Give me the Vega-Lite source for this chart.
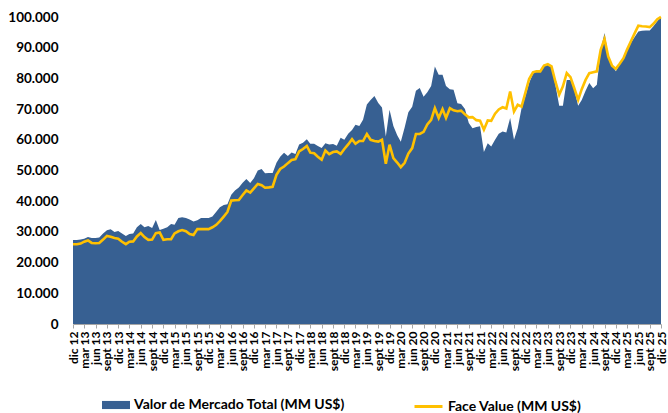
{
  "$schema": "https://vega.github.io/schema/vega-lite/v6.json",
  "width": 588,
  "height": 307,
  "autosize": "none",
  "padding": {"left": 73, "top": 17, "right": 7, "bottom": 89},
  "background": "white",
  "config": {"view": {"stroke": null}, "font": "Lato", "axisY": {"labelOverlap": false}},
  "data": {
    "format": {"parse": {"d": "date:'%Y-%m'"}},
    "values": [
      {"d": "2012-12", "vm": 27400, "fv": 26000},
      {"d": "2013-01", "vm": 27400, "fv": 26000},
      {"d": "2013-02", "vm": 27500, "fv": 26200},
      {"d": "2013-03", "vm": 27800, "fv": 26800},
      {"d": "2013-04", "vm": 28300, "fv": 27200},
      {"d": "2013-05", "vm": 28000, "fv": 26400},
      {"d": "2013-06", "vm": 28000, "fv": 26300},
      {"d": "2013-07", "vm": 28200, "fv": 26400},
      {"d": "2013-08", "vm": 29500, "fv": 27500},
      {"d": "2013-09", "vm": 30500, "fv": 28700},
      {"d": "2013-10", "vm": 30900, "fv": 28400},
      {"d": "2013-11", "vm": 30000, "fv": 28000},
      {"d": "2013-12", "vm": 30300, "fv": 27800},
      {"d": "2014-01", "vm": 29500, "fv": 26800},
      {"d": "2014-02", "vm": 28700, "fv": 26000},
      {"d": "2014-03", "vm": 29300, "fv": 26800},
      {"d": "2014-04", "vm": 29500, "fv": 26900},
      {"d": "2014-05", "vm": 31500, "fv": 28500},
      {"d": "2014-06", "vm": 32600, "fv": 29600},
      {"d": "2014-07", "vm": 31500, "fv": 28300},
      {"d": "2014-08", "vm": 31900, "fv": 27400},
      {"d": "2014-09", "vm": 31300, "fv": 27500},
      {"d": "2014-10", "vm": 33900, "fv": 29600},
      {"d": "2014-11", "vm": 30600, "fv": 29800},
      {"d": "2014-12", "vm": 31000, "fv": 27400},
      {"d": "2015-01", "vm": 31500, "fv": 27600},
      {"d": "2015-02", "vm": 32600, "fv": 27600},
      {"d": "2015-03", "vm": 32300, "fv": 29500},
      {"d": "2015-04", "vm": 34500, "fv": 30200},
      {"d": "2015-05", "vm": 34800, "fv": 30600},
      {"d": "2015-06", "vm": 34500, "fv": 30200},
      {"d": "2015-07", "vm": 34000, "fv": 29300},
      {"d": "2015-08", "vm": 33400, "fv": 29000},
      {"d": "2015-09", "vm": 33800, "fv": 30900},
      {"d": "2015-10", "vm": 34500, "fv": 30900},
      {"d": "2015-11", "vm": 34500, "fv": 30900},
      {"d": "2015-12", "vm": 34500, "fv": 30900},
      {"d": "2016-01", "vm": 35000, "fv": 31500},
      {"d": "2016-02", "vm": 36600, "fv": 32300},
      {"d": "2016-03", "vm": 38000, "fv": 33500},
      {"d": "2016-04", "vm": 38800, "fv": 35000},
      {"d": "2016-05", "vm": 39000, "fv": 36500},
      {"d": "2016-06", "vm": 42100, "fv": 40200},
      {"d": "2016-07", "vm": 43500, "fv": 40300},
      {"d": "2016-08", "vm": 44500, "fv": 40400},
      {"d": "2016-09", "vm": 46000, "fv": 42000},
      {"d": "2016-10", "vm": 47200, "fv": 43500},
      {"d": "2016-11", "vm": 45900, "fv": 42800},
      {"d": "2016-12", "vm": 47500, "fv": 44200},
      {"d": "2017-01", "vm": 50000, "fv": 45600},
      {"d": "2017-02", "vm": 50500, "fv": 45200},
      {"d": "2017-03", "vm": 49100, "fv": 44400},
      {"d": "2017-04", "vm": 49200, "fv": 44500},
      {"d": "2017-05", "vm": 49200, "fv": 44700},
      {"d": "2017-06", "vm": 52500, "fv": 48600},
      {"d": "2017-07", "vm": 54500, "fv": 50500},
      {"d": "2017-08", "vm": 55800, "fv": 51300},
      {"d": "2017-09", "vm": 54700, "fv": 52400},
      {"d": "2017-10", "vm": 55900, "fv": 53400},
      {"d": "2017-11", "vm": 55400, "fv": 53700},
      {"d": "2017-12", "vm": 58500, "fv": 56200},
      {"d": "2018-01", "vm": 59000, "fv": 57000},
      {"d": "2018-02", "vm": 60200, "fv": 58000},
      {"d": "2018-03", "vm": 58700, "fv": 55800},
      {"d": "2018-04", "vm": 58700, "fv": 55600},
      {"d": "2018-05", "vm": 58000, "fv": 54500},
      {"d": "2018-06", "vm": 57300, "fv": 53500},
      {"d": "2018-07", "vm": 58900, "fv": 56500},
      {"d": "2018-08", "vm": 58500, "fv": 55300},
      {"d": "2018-09", "vm": 58600, "fv": 56000},
      {"d": "2018-10", "vm": 58100, "fv": 56200},
      {"d": "2018-11", "vm": 60700, "fv": 55400},
      {"d": "2018-12", "vm": 60000, "fv": 57000},
      {"d": "2019-01", "vm": 62000, "fv": 58500},
      {"d": "2019-02", "vm": 63200, "fv": 60200},
      {"d": "2019-03", "vm": 64900, "fv": 58700},
      {"d": "2019-04", "vm": 64500, "fv": 59600},
      {"d": "2019-05", "vm": 66500, "fv": 59600},
      {"d": "2019-06", "vm": 71500, "fv": 61900},
      {"d": "2019-07", "vm": 73000, "fv": 60000},
      {"d": "2019-08", "vm": 74300, "fv": 59600},
      {"d": "2019-09", "vm": 72000, "fv": 59400},
      {"d": "2019-10", "vm": 70500, "fv": 60000},
      {"d": "2019-11", "vm": 61100, "fv": 52200},
      {"d": "2019-12", "vm": 69800, "fv": 58400},
      {"d": "2020-01", "vm": 64500, "fv": 54000},
      {"d": "2020-02", "vm": 61500, "fv": 52600},
      {"d": "2020-03", "vm": 59400, "fv": 51100},
      {"d": "2020-04", "vm": 64000, "fv": 52500},
      {"d": "2020-05", "vm": 69000, "fv": 55500},
      {"d": "2020-06", "vm": 70800, "fv": 57300},
      {"d": "2020-07", "vm": 76000, "fv": 61900},
      {"d": "2020-08", "vm": 76900, "fv": 61900},
      {"d": "2020-09", "vm": 74000, "fv": 62600},
      {"d": "2020-10", "vm": 75500, "fv": 65000},
      {"d": "2020-11", "vm": 77500, "fv": 66500},
      {"d": "2020-12", "vm": 83900, "fv": 70300},
      {"d": "2021-01", "vm": 81200, "fv": 67100},
      {"d": "2021-02", "vm": 81200, "fv": 70000},
      {"d": "2021-03", "vm": 77500, "fv": 67100},
      {"d": "2021-04", "vm": 76500, "fv": 70300},
      {"d": "2021-05", "vm": 76300, "fv": 69600},
      {"d": "2021-06", "vm": 71900, "fv": 69300},
      {"d": "2021-07", "vm": 71700, "fv": 69500},
      {"d": "2021-08", "vm": 70000, "fv": 68300},
      {"d": "2021-09", "vm": 65500, "fv": 67300},
      {"d": "2021-10", "vm": 63800, "fv": 67400},
      {"d": "2021-11", "vm": 64200, "fv": 66400},
      {"d": "2021-12", "vm": 64400, "fv": 66200},
      {"d": "2022-01", "vm": 56000, "fv": 63300},
      {"d": "2022-02", "vm": 58900, "fv": 66300},
      {"d": "2022-03", "vm": 57800, "fv": 66200},
      {"d": "2022-04", "vm": 60000, "fv": 68500},
      {"d": "2022-05", "vm": 62000, "fv": 69900},
      {"d": "2022-06", "vm": 62700, "fv": 70600},
      {"d": "2022-07", "vm": 62400, "fv": 70200},
      {"d": "2022-08", "vm": 67100, "fv": 75700},
      {"d": "2022-09", "vm": 60000, "fv": 69200},
      {"d": "2022-10", "vm": 63800, "fv": 71400},
      {"d": "2022-11", "vm": 70300, "fv": 70800},
      {"d": "2022-12", "vm": 74100, "fv": 75200},
      {"d": "2023-01", "vm": 78500, "fv": 79800},
      {"d": "2023-02", "vm": 81500, "fv": 82000},
      {"d": "2023-03", "vm": 82300, "fv": 82300},
      {"d": "2023-04", "vm": 82000, "fv": 82300},
      {"d": "2023-05", "vm": 84000, "fv": 84200},
      {"d": "2023-06", "vm": 84600, "fv": 84600},
      {"d": "2023-07", "vm": 84100, "fv": 83900},
      {"d": "2023-08", "vm": 77900, "fv": 79000},
      {"d": "2023-09", "vm": 71100, "fv": 74700},
      {"d": "2023-10", "vm": 71100, "fv": 77400},
      {"d": "2023-11", "vm": 79500, "fv": 81700},
      {"d": "2023-12", "vm": 79500, "fv": 80400},
      {"d": "2024-01", "vm": 76300, "fv": 76800},
      {"d": "2024-02", "vm": 71100, "fv": 73000},
      {"d": "2024-03", "vm": 73000, "fv": 76500},
      {"d": "2024-04", "vm": 76000, "fv": 79500},
      {"d": "2024-05", "vm": 78500, "fv": 81700},
      {"d": "2024-06", "vm": 76800, "fv": 82000},
      {"d": "2024-07", "vm": 77900, "fv": 82300},
      {"d": "2024-08", "vm": 89300, "fv": 89300},
      {"d": "2024-09", "vm": 94800, "fv": 92800},
      {"d": "2024-10", "vm": 87700, "fv": 87100},
      {"d": "2024-11", "vm": 84400, "fv": 84100},
      {"d": "2024-12", "vm": 82300, "fv": 83100},
      {"d": "2025-01", "vm": 84500, "fv": 84800},
      {"d": "2025-02", "vm": 86600, "fv": 86600},
      {"d": "2025-03", "vm": 89000, "fv": 89300},
      {"d": "2025-04", "vm": 91500, "fv": 92000},
      {"d": "2025-05", "vm": 93400, "fv": 94600},
      {"d": "2025-06", "vm": 95300, "fv": 97200},
      {"d": "2025-07", "vm": 95500, "fv": 97000},
      {"d": "2025-08", "vm": 95600, "fv": 96900},
      {"d": "2025-09", "vm": 95600, "fv": 96700},
      {"d": "2025-10", "vm": 97000, "fv": 97800},
      {"d": "2025-11", "vm": 98600, "fv": 99300},
      {"d": "2025-12", "vm": 100000, "fv": 100000}
    ]
  },
  "encoding": {
    "x": {
      "field": "d",
      "type": "temporal",
      "title": null,
      "axis": {
        "values": [
          {"year": 2012, "month": 12, "date": 1},
          {"year": 2013, "month": 3, "date": 1}, {"year": 2013, "month": 6, "date": 1}, {"year": 2013, "month": 9, "date": 1}, {"year": 2013, "month": 12, "date": 1},
          {"year": 2014, "month": 3, "date": 1}, {"year": 2014, "month": 6, "date": 1}, {"year": 2014, "month": 9, "date": 1}, {"year": 2014, "month": 12, "date": 1},
          {"year": 2015, "month": 3, "date": 1}, {"year": 2015, "month": 6, "date": 1}, {"year": 2015, "month": 9, "date": 1}, {"year": 2015, "month": 12, "date": 1},
          {"year": 2016, "month": 3, "date": 1}, {"year": 2016, "month": 6, "date": 1}, {"year": 2016, "month": 9, "date": 1}, {"year": 2016, "month": 12, "date": 1},
          {"year": 2017, "month": 3, "date": 1}, {"year": 2017, "month": 6, "date": 1}, {"year": 2017, "month": 9, "date": 1}, {"year": 2017, "month": 12, "date": 1},
          {"year": 2018, "month": 3, "date": 1}, {"year": 2018, "month": 6, "date": 1}, {"year": 2018, "month": 9, "date": 1}, {"year": 2018, "month": 12, "date": 1},
          {"year": 2019, "month": 3, "date": 1}, {"year": 2019, "month": 6, "date": 1}, {"year": 2019, "month": 9, "date": 1}, {"year": 2019, "month": 12, "date": 1},
          {"year": 2020, "month": 3, "date": 1}, {"year": 2020, "month": 6, "date": 1}, {"year": 2020, "month": 9, "date": 1}, {"year": 2020, "month": 12, "date": 1},
          {"year": 2021, "month": 3, "date": 1}, {"year": 2021, "month": 6, "date": 1}, {"year": 2021, "month": 9, "date": 1}, {"year": 2021, "month": 12, "date": 1},
          {"year": 2022, "month": 3, "date": 1}, {"year": 2022, "month": 6, "date": 1}, {"year": 2022, "month": 9, "date": 1}, {"year": 2022, "month": 12, "date": 1},
          {"year": 2023, "month": 3, "date": 1}, {"year": 2023, "month": 6, "date": 1}, {"year": 2023, "month": 9, "date": 1}, {"year": 2023, "month": 12, "date": 1},
          {"year": 2024, "month": 3, "date": 1}, {"year": 2024, "month": 6, "date": 1}, {"year": 2024, "month": 9, "date": 1}, {"year": 2024, "month": 12, "date": 1},
          {"year": 2025, "month": 3, "date": 1}, {"year": 2025, "month": 6, "date": 1}, {"year": 2025, "month": 9, "date": 1}, {"year": 2025, "month": 12, "date": 1}
        ],
        "labelExpr": "(month(datum.value)==11?'dic':month(datum.value)==2?'mar':month(datum.value)==5?'jun':'sept') + ' ' + timeFormat(datum.value, '%y')",
        "labelAngle": -90,
        "labelFont": "Lato",
        "labelFontWeight": "bold",
        "labelFontSize": 12,
        "labelColor": "#000000",
        "labelOverlap": false,
        "labelFlush": false,
        "labelPadding": 3,
        "grid": false,
        "domainColor": "#A6A6A6",
        "tickColor": "#A6A6A6",
        "tickSize": 4
      }
    }
  },
  "layer": [
    {
      "mark": {"type": "area", "interpolate": "linear"},
      "encoding": {
        "y": {
          "field": "vm",
          "type": "quantitative",
          "title": null,
          "scale": {"domain": [0, 100000], "nice": false},
          "axis": {
            "values": [0, 10000, 20000, 30000, 40000, 50000, 60000, 70000, 80000, 90000, 100000],
            "labelExpr": "datum.value == 0 ? '0' : (datum.value / 1000) + '.000'",
            "labelFont": "Lato",
            "labelFontWeight": "bold",
            "labelFontSize": 13.5,
            "labelColor": "#000000",
            "labelPadding": 15,
            "labelOverlap": false,
            "labelFlush": false,
            "domain": false,
            "ticks": false,
            "grid": false
          }
        },
        "color": {
          "datum": "Valor de Mercado Total (MM US$)",
          "type": "nominal",
          "scale": {"range": ["#376092"]},
          "legend": {
            "title": null,
            "orient": "none",
            "legendX": 29,
            "legendY": 374,
            "padding": 0,
            "symbolType": "M-1,-0.29H1V0.29H-1Z",
            "symbolSize": 784,
            "symbolStrokeWidth": 0,
            "labelFont": "Lato",
            "labelFontWeight": "bold",
            "labelFontSize": 14,
            "labelColor": "#000000",
            "labelOffset": 4,
            "labelLimit": 400
          }
        }
      }
    },
    {
      "mark": {"type": "line", "strokeWidth": 2.6, "interpolate": "linear"},
      "encoding": {
        "y": {
          "field": "fv",
          "type": "quantitative",
          "title": null,
          "scale": {"domain": [0, 100000], "nice": false},
          "axis": {
            "values": [0, 10000, 20000, 30000, 40000, 50000, 60000, 70000, 80000, 90000, 100000],
            "labelExpr": "datum.value == 0 ? '0' : (datum.value / 1000) + '.000'",
            "labelFont": "Lato",
            "labelFontWeight": "bold",
            "labelFontSize": 13.5,
            "labelColor": "#000000",
            "labelPadding": 15,
            "labelOverlap": false,
            "labelFlush": false,
            "domain": false,
            "ticks": false,
            "grid": false
          }
        },
        "color": {
          "datum": "Face Value (MM US$)",
          "type": "nominal",
          "scale": {"range": ["#FFC000"]},
          "legend": {
            "title": null,
            "orient": "none",
            "legendX": 340,
            "legendY": 374,
            "padding": 0,
            "symbolType": "stroke",
            "symbolSize": 784,
            "symbolStrokeWidth": 3,
            "labelFont": "Lato",
            "labelFontWeight": "bold",
            "labelFontSize": 14,
            "labelColor": "#000000",
            "labelOffset": 4,
            "labelLimit": 400
          }
        }
      }
    }
  ],
  "resolve": {"scale": {"color": "independent"}}
}
